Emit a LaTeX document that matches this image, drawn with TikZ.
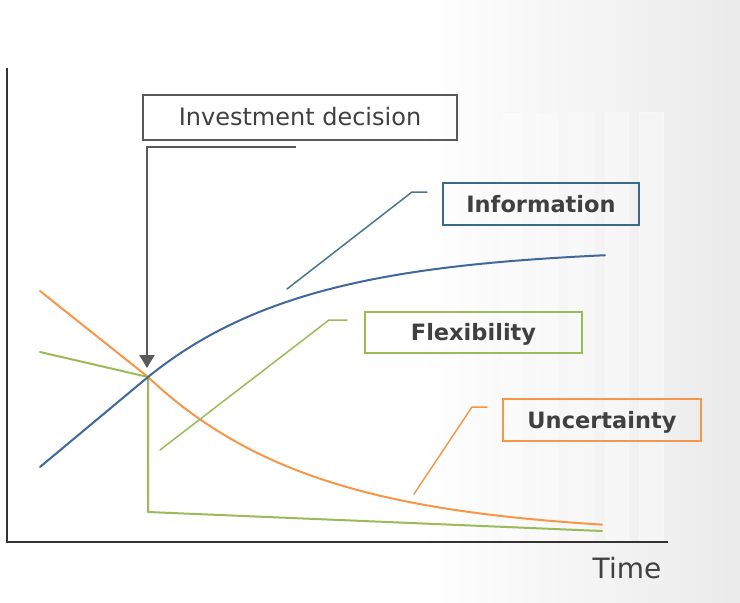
\documentclass[tikz,border=0pt]{standalone}
\usepackage{fontspec}
\setmainfont{DejaVu Sans}
\usetikzlibrary{arrows.meta,calc}
\definecolor{txt}{HTML}{404040}
\definecolor{axisc}{HTML}{333333}
\definecolor{arrc}{HTML}{595959}
\definecolor{infob}{HTML}{3A6A86}
\definecolor{infoc}{HTML}{41689C}
\definecolor{infol}{HTML}{4A7690}
\definecolor{flexc}{HTML}{9BBB59}
\definecolor{uncc}{HTML}{F79646}
\tikzset{
  labelbox/.style={draw, line width=1.6pt, inner sep=0pt, text=txt, text height=16.5pt, text depth=0pt, align=center},
  curve/.style={line width=2pt, line cap=round, line join=round},
  leader/.style={line width=1.5pt, line cap=round},
  stripe/.style={fill=white, fill opacity=0.35, draw=black!3, line width=0.6pt}
}
\begin{document}
\begin{tikzpicture}[x=1pt,y=-1pt]
\useasboundingbox (0,0) rectangle (740,603);
% background
\fill[white] (0,0) rectangle (740,603);
\shade[left color=white, right color=black!8] (420,0) rectangle (740,603);
\foreach \a/\b in {500/523,535/558,568/593,605/628,639/663}
  \draw[stripe] (\a,112) rectangle (\b,542);
% axes
\coordinate (ytop) at (7,68);
\coordinate (origin) at (7,542);
\coordinate (xend) at (668,542);
\draw[axisc, line width=2pt] (ytop) -- (origin) -- (xend);
\node[anchor=base, text=txt, font=\fontsize{28}{32}\selectfont] (time) at (627,578) {Time};
% curves
\draw[curve, uncc] (40,291) -- (148,377)
  -- plot[domain=148:602, samples=80] (\x, {535-158*exp(-0.006*(\x-148))});
\draw[curve, flexc] (40,352) -- (148,377) -- (148,512) -- (602,531);
\draw[curve, infoc] (40,467) -- (148,377)
  -- plot[domain=148:605, samples=80] (\x, {248+129*exp(-0.0063*(\x-148))});
% label boxes
\node[labelbox, draw=arrc, minimum width=314pt, minimum height=45pt, font=\fontsize{24}{28}\selectfont] (decision) at (300,117.5) {Investment decision};
\node[labelbox, draw=infob, minimum width=196pt, minimum height=42pt, font=\bfseries\fontsize{22.5}{27}\selectfont] (info) at (541,204) {Information};
\node[labelbox, draw=flexc, minimum width=217pt, minimum height=41pt, font=\bfseries\fontsize{22.5}{27}\selectfont] (flex) at (473.5,332.5) {Flexibility};
\node[labelbox, draw=uncc, minimum width=198pt, minimum height=42pt, font=\bfseries\fontsize{22.5}{27}\selectfont] (unc) at (602,420) {Uncertainty};
% decision arrow
\coordinate (armstart) at (296,147);
\coordinate (tip) at (147,368);
\draw[arrc, line width=2pt, -{Triangle[width=15pt,length=13pt]}] (armstart) -| (tip);
% leaders
\coordinate (infoA) at (287,289);
\coordinate (infoB) at (412,192);
\coordinate (infoC) at (427,192);
\draw[leader, infol] (infoA) -- (infoB) -- (infoC);
\coordinate (flexA) at (160,450);
\coordinate (flexB) at (329,320);
\coordinate (flexC) at (347,320);
\draw[leader, flexc] (flexA) -- (flexB) -- (flexC);
\coordinate (uncA) at (414,494);
\coordinate (uncB) at (472,407);
\coordinate (uncC) at (487,407);
\draw[leader, uncc] (uncA) -- (uncB) -- (uncC);
\end{tikzpicture}
\end{document}
